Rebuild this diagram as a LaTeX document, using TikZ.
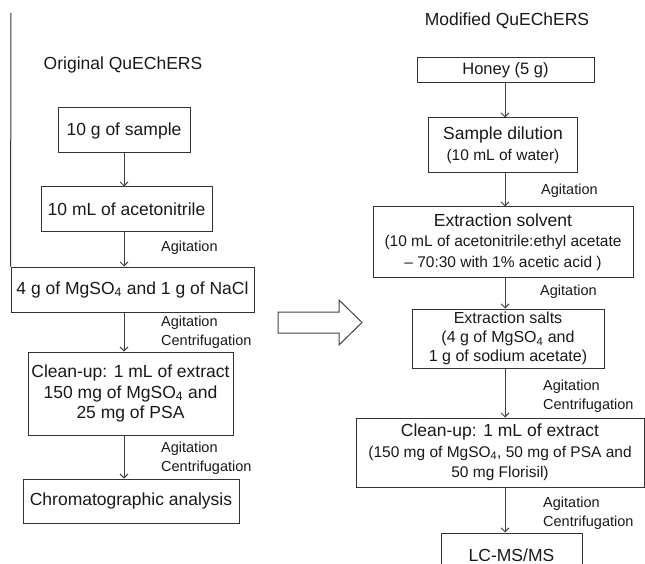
\documentclass[tikz,border=0pt]{standalone}
\usepackage{fontspec}
\setmainfont{Liberation Sans}
\usetikzlibrary{arrows.meta}

\newcommand{\mgso}{MgSO\textsubscript{4}}
\newcommand{\subline}{\fontsize{15.5}{20}\selectfont}

\tikzstyle{stage}=[draw=black!80,line width=1pt,inner sep=0pt,align=center,text=black!90,font=\fontsize{17.5}{20.5}\selectfont]
\tikzstyle{flow}=[draw=black!75,line width=0.9pt,->]
\tikzstyle{note}=[anchor=west,align=left,inner sep=0pt,text=black!90,font=\fontsize{14.5}{19}\selectfont]
\tikzstyle{heading}=[inner sep=0pt,text=black!90,font=\fontsize{17.5}{20}\selectfont]

\begin{document}
\begin{tikzpicture}[x=1pt, y=-1pt, >={Straight Barb[length=4pt,width=8pt]}]
	\useasboundingbox (0,0) rectangle (645,564);

	\node [heading] (origtitle) at (123,65) {Original QuEChERS};
	\node [stage,minimum width=132pt,minimum height=45pt] (sample)  at (124,130.5) {10 g of sample};
	\node [stage,minimum width=171pt,minimum height=44pt] (acn)     at (126.5,209) {10 mL of acetonitrile};
	\node [stage,minimum width=243pt,minimum height=45pt] (nacl)    at (132.5,289.5) {4 g of \mgso{} and 1 g of NaCl};
	\node [stage,minimum width=205pt,minimum height=83pt] (cleanup) at (130.5,393.5) {Clean-up: 1 mL of extract\\150 mg of \mgso{} and\\25 mg of PSA};
	\node [stage,minimum width=216pt,minimum height=44pt] (chrom)   at (131,501) {Chromatographic analysis};
	\node [note] (agl1) at (161,248) {Agitation};
	\node [note] (agl2) at (161,332.5) {Agitation\\Centrifugation};
	\node [note] (agl3) at (161,458.5) {Agitation\\Centrifugation};
	\coordinate (colL) at (124,0);
	\coordinate (margintop) at (11,13);

	\node [heading] (modtitle) at (507,21) {Modified QuEChERS};
	\node [stage,minimum width=177pt,minimum height=25pt,font=\fontsize{16.5}{20}\selectfont] (honey) at (505.5,70.5) {Honey (5 g)};
	\node [stage,minimum width=149pt,minimum height=55pt] (dilution) at (503,145.5) {Sample dilution\\{\subline (10 mL of water)}};
	\node [stage,minimum width=260pt,minimum height=70pt] (solvent)  at (503,242) {Extraction solvent\\{\subline (10 mL of acetonitrile:ethyl acetate}\\{\subline -- 70:30 with 1\% acetic acid )}};
	\node [stage,minimum width=192pt,minimum height=59pt,font=\fontsize{16}{19}\selectfont] (msalts) at (508,338.5) {Extraction salts\\(4 g of \mgso{} and\\1 g of sodium acetate)};
	\node [stage,minimum width=288pt,minimum height=69pt] (mclean)   at (500,452.5) {Clean-up: 1 mL of extract\\{\subline (150 mg of \mgso, 50 mg of PSA and}\\{\subline 50 mg Florisil)}};
	\node [stage,minimum width=141pt,minimum height=44pt] (lcms)     at (511.5,555) {LC-MS/MS};
	\node [note] (agr1) at (541,191) {Agitation};
	\node [note] (agr2) at (540,292) {Agitation};
	\node [note] (agr3) at (543,396.5) {Agitation\\Centrifugation};
	\node [note] (agr4) at (543,513) {Agitation\\Centrifugation};
	\coordinate (colR) at (505,0);

	\draw [draw=black!80,line width=1pt] (margintop) -- (nacl.north west);
	\draw [flow] (sample.south -| colL) -- (acn.north -| colL);
	\draw [flow] (acn.south -| colL) -- (nacl.north -| colL);
	\draw [flow] (nacl.south -| colL) -- (cleanup.north -| colL);
	\draw [flow] (cleanup.south -| colL) -- (chrom.north -| colL);

	\draw [flow] (honey.south -| colR) -- (dilution.north -| colR);
	\draw [flow] (dilution.south -| colR) -- (solvent.north -| colR);
	\draw [flow] (solvent.south -| colR) -- (msalts.north -| colR);
	\draw [flow] (msalts.south -| colR) -- (mclean.north -| colR);
	\draw [flow] (mclean.south -| colR) -- (lcms.north -| colR);

	\draw [draw=black!75,line width=1pt] (278,312) -- (339,312) -- (339,300) -- (362,322.5) -- (339,345) -- (339,333) -- (278,333) -- cycle;
\end{tikzpicture}
\end{document}
